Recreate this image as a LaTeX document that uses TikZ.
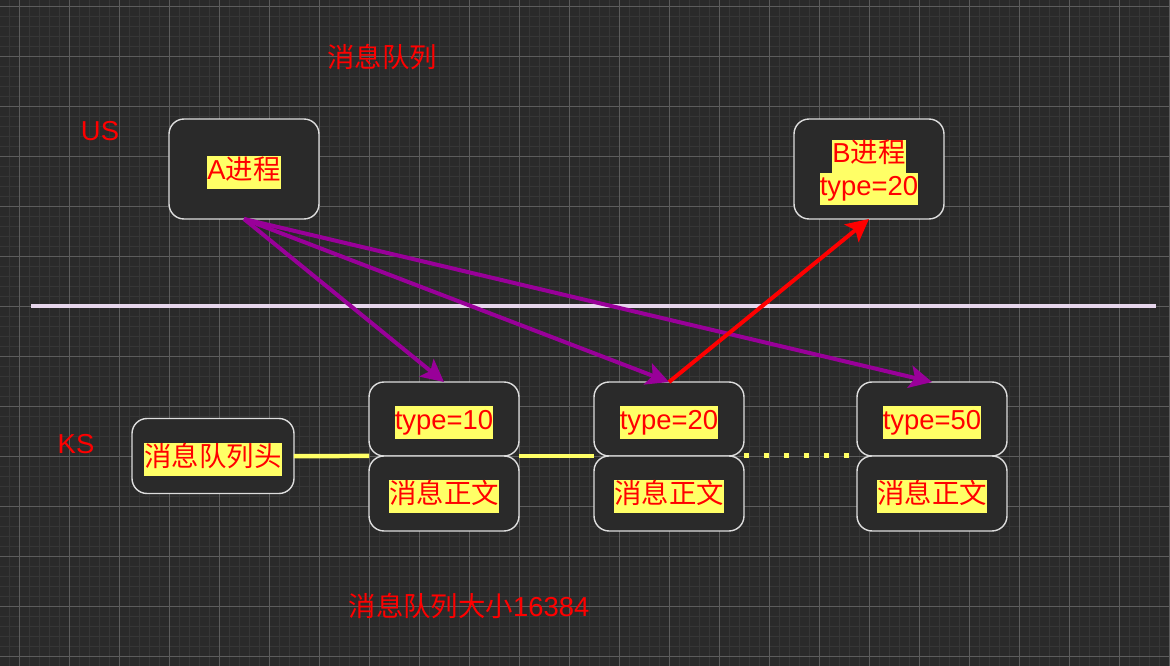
\documentclass[tikz,border=0pt]{standalone}
\usepackage{fontspec}
\setmainfont{Liberation Sans}
\newfontfamily\cjk{Noto Sans CJK SC}
\usetikzlibrary{positioning,arrows.meta}
\definecolor{bgdark}{HTML}{2A2A2A}
\definecolor{gridminor}{HTML}{363636}
\definecolor{gridmajor}{HTML}{5C5C5C}
\definecolor{boxline}{HTML}{DDDDDD}
\definecolor{hlyellow}{HTML}{FFFF66}
\definecolor{msgpurple}{HTML}{990099}
\definecolor{sepline}{HTML}{E6D6EB}
\newcommand{\hl}[1]{\raisebox{-2pt}[0.7\baselineskip][0.3\baselineskip]{%
	\setlength{\fboxsep}{0pt}\colorbox{hlyellow}{\strut#1}}}

\begin{document}
\begin{tikzpicture}[x=0.02cm,y=-0.02cm,
	every node/.style={font=\fontsize{15.6}{18.7}\selectfont, text=red},
	box/.style={draw=boxline, line width=0.8pt, fill=bgdark, rounded corners=0.3cm,
		minimum width=3cm, outer sep=0pt, inner sep=0pt},
	link/.style={draw=hlyellow, line width=0.09cm},
	msgarrow/.style={draw=msgpurple, line width=0.08cm,
		-{Stealth[length=0.45cm,width=0.45cm,inset=0.1cm]}},
	recvarrow/.style={draw=red, line width=0.08cm,
		-{Stealth[length=0.45cm,width=0.45cm,inset=0.1cm]}}]
	% background and grid
	\fill [bgdark] (0,0) rectangle (1170,666);
	\useasboundingbox (0,0) rectangle (1170,666);
	\foreach \x in {9,19,...,1169} \draw [gridminor,line width=0.5pt] (\x,0) -- (\x,666);
	\foreach \y in {6,16,...,666} \draw [gridminor,line width=0.5pt] (0,\y) -- (1170,\y);
	\foreach \x in {19,69,...,1169} \draw [gridmajor,line width=0.5pt] (\x,0) -- (\x,666);
	\foreach \y in {6,56,...,656} \draw [gridmajor,line width=0.5pt] (0,\y) -- (1170,\y);

	% labels
	\node (title) at (382,57) {\cjk 消息队列};
	\node (uslabel) at (100,131) {US};
	\node (kslabel) at (76,444) {KS};
	\node (sizelabel) at (469,606) {{\cjk 消息队列大小}16384};

	% user space / kernel space
	\coordinate (sepl) at (31,306);
	\coordinate (sepr) at (1156,306);
	\draw [sepline, line width=0.09cm] (sepl) -- (sepr);

	% processes
	\node [box, minimum height=2cm] (aproc) at (244,169) {\hl{A{\cjk 进程}}};
	\node [box, minimum height=2cm, align=center] (bproc) at (869,169)
		{\hl{B{\cjk 进程}}\\\hl{type=20}};

	% queue
	\node [box, minimum width=3.24cm, minimum height=1.5cm] (qhead) at (213,456) {\hl{\cjk 消息队列头}};
	\node [box, minimum height=1.48cm] (t10) at (444,419) {\hl{type=10}};
	\node [box, minimum height=1.5cm, below=0pt of t10] (b10) {\hl{\cjk 消息正文}};
	\node [box, minimum height=1.48cm] (t20) at (669,419) {\hl{type=20}};
	\node [box, minimum height=1.5cm, below=0pt of t20] (b20) {\hl{\cjk 消息正文}};
	\node [box, minimum height=1.48cm] (t50) at (932,419) {\hl{type=50}};
	\node [box, minimum height=1.5cm, below=0pt of t50] (b50) {\hl{\cjk 消息正文}};

	\draw [link] (qhead.east) -- (t10.south west);
	\draw [link] (t10.south east) -- (t20.south west);
	\draw [link, line width=0.1cm, dash pattern=on 0.1cm off 0.3cm] (t20.south east) -- (t50.south west);

	% send / receive
	\draw [msgarrow] (aproc.south) -- (t10.north);
	\draw [msgarrow] (aproc.south) -- (t20.north);
	\draw [msgarrow] (aproc.south) -- (t50.north);
	\draw [recvarrow] (t20.north) -- (bproc.south);
\end{tikzpicture}
\end{document}
